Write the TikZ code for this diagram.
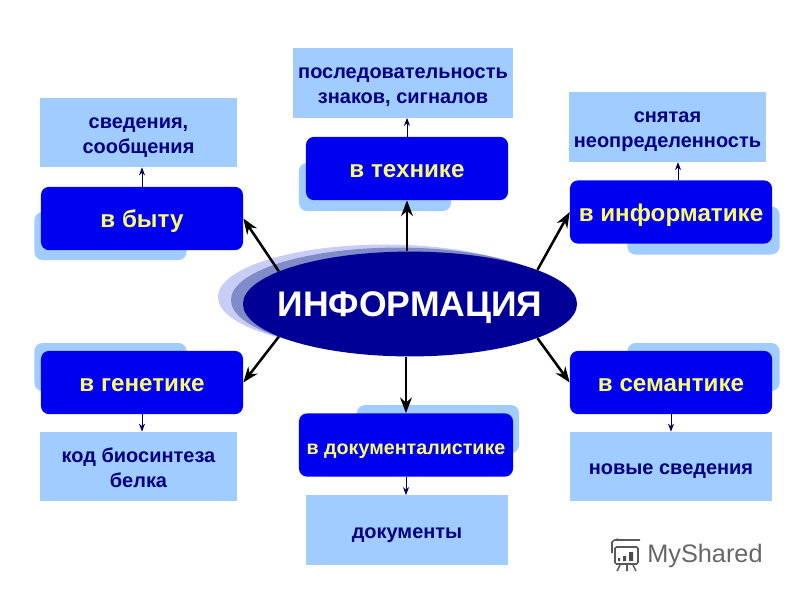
\documentclass[tikz,border=0pt]{standalone}
\usepackage{fontspec}
\setmainfont{Liberation Sans}
\usetikzlibrary{shapes.geometric, arrows.meta, positioning, calc}
\definecolor{navytext}{RGB}{0,0,130}
\definecolor{boxblue}{RGB}{0,0,240}
\definecolor{paleblue}{RGB}{160,204,255}
\definecolor{ovalnavy}{RGB}{0,0,150}
\definecolor{ovalmid}{RGB}{128,140,200}
\definecolor{ovallight}{RGB}{200,205,245}
\definecolor{areatext}{RGB}{250,250,110}

\begin{document}
\begin{tikzpicture}[
  x=0.025cm, y=-0.025cm,
  area/.style={rectangle, rounded corners=0.2cm, fill=boxblue, minimum width=5.05cm,
    minimum height=1.58cm, align=center, text=areatext, text depth=0pt, text height=13.2pt,
    font=\fontsize{17.2}{20}\selectfont\bfseries},
  backing/.style={rectangle, rounded corners=0.2cm, fill=paleblue, minimum width=3.8cm,
    minimum height=1.2cm},
  meaning/.style={rectangle, fill=paleblue, minimum width=4.92cm, minimum height=1.73cm,
    align=center, text=navytext, text depth=0pt, text height=11.8pt,
    font=\fontsize{14.2}{17.8}\selectfont\bfseries},
  twolines/.style={meaning, text height=29.5pt},
  oval/.style={ellipse, inner sep=0pt, minimum width=8.35cm, minimum height=2.62cm},
  link/.style={-Stealth, line width=1.8pt, black},
  thinlink/.style={-Stealth, line width=0.6pt, navytext!70!black}
]
  \useasboundingbox (0,0) rectangle (800,600);

  % backing plates
  \node[backing] (bytback) at (110.5,236) {};
  \node[backing] (techback) at (375,187) {};
  \node[backing] (infback) at (703.5,230.5) {};
  \node[backing] (genback) at (110.5,367) {};
  \node[backing, minimum width=4.05cm] (docback) at (438,429) {};
  \node[backing] (semback) at (703.5,367) {};

  % oval
  \node[oval, fill=ovallight] (ovalback) at (385,297) {};
  \node[oval, fill=ovalmid] (ovalmiddle) at (398,300) {};
  \node[oval, fill=ovalnavy,
    label={[text=white, text depth=0pt, font=\fontsize{25.3}{28}\selectfont\bfseries]center:ИНФОРМАЦИЯ}] (info) at (410,304) {};

  % areas
  \node[area] (byt) at (142,218.5) {в быту};
  \node[area] (tech) at (407,168.5) {в технике};
  \node[area] (inf) at (671,212) {в информатике};
  \node[area] (gen) at (142,382.5) {в генетике};
  \node[area, minimum width=5.35cm, font=\fontsize{14}{16}\selectfont\bfseries] (doc) at (406,445) {в документалистике};
  \node[area] (sem) at (671,382.5) {в семантике};

  % meanings
  \node[twolines] (bytmean) at (138.5,132.5) {сведения,\\сообщения};
  \node[twolines, minimum width=5.5cm] (techmean) at (403,83) {последовательность\\знаков, сигналов};
  \node[twolines, minimum width=4.88cm] (infmean) at (667.5,127) {снятая\\неопределенность};
  \node[twolines] (genmean) at (138.5,466.5) {код биосинтеза\\белка};
  \node[meaning, minimum width=5.05cm] (docmean) at (407,530) {документы};
  \node[meaning, minimum width=5.05cm] (semmean) at (671,466.5) {новые сведения};

  \draw[link] (info.166) -- (byt.east);
  \draw[link] (info.north -| tech.south) -- (tech.south);
  \draw[link] (info.15) -- (inf.west);
  \draw[link] (info.194) -- (gen.east);
  \draw[link] (info.south -| doc.north) -- (doc.north);
  \draw[link] (info.-15) -- (sem.west);

  \draw[thinlink] (byt.north) -- (byt.north |- bytmean.south);
  \draw[thinlink] (tech.north) -- (tech.north |- techmean.south);
  \draw[thinlink] (inf.north) ++(7,0) -- ++(0,-18);
  \draw[thinlink] (gen.south) -- (gen.south |- genmean.north);
  \draw[thinlink] (doc.south) -- (doc.south |- docmean.north);
  \draw[thinlink] (sem.south) -- (sem.south |- semmean.north);

  % site mark
  \node[anchor=west, text=black!60, font=\fontsize{18}{20}\selectfont, inner sep=0pt] (mark) at (647,556) {MyShared};
  \draw[black!65, line width=1.1pt, rounded corners=1pt] (615,540) -- (640,540) (615,547) rectangle (638,564)
    (612,553) -- (612,541) -- (618,539) (620,565) -- (617,571) (627,565) -- (627,571) (633,565) -- (636,571);
  \fill[black!70] (618,558) rectangle (620,561) (623,556) rectangle (626,561) (629,552) rectangle (633,561);
\end{tikzpicture}
\end{document}
